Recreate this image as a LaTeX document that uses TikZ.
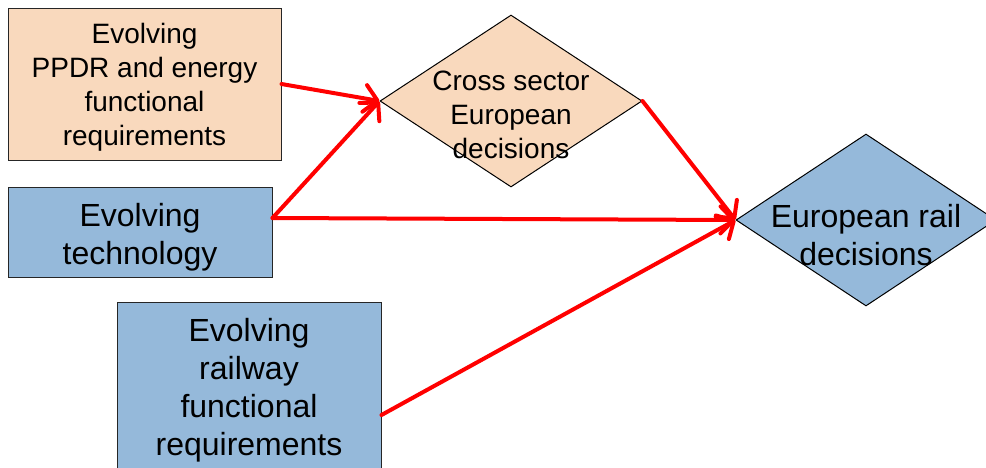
\documentclass[tikz,border=0pt]{standalone}
\usepackage{fontspec}
\setmainfont{Liberation Sans}
\usetikzlibrary{shapes.geometric,arrows.meta,calc}
\definecolor{peach}{HTML}{F9D9BD}
\definecolor{steel}{HTML}{95B9DA}
\definecolor{arrred}{HTML}{FF0000}
\begin{document}
\begin{tikzpicture}[x=1pt,y=-1pt,
  boxstyle/.style={draw=black!85,line width=1pt,inner sep=0pt,align=center},
  diastyle/.style={draw=black,line width=1pt,shape=diamond,inner sep=0pt},
  smalltext/.style={font=\fontsize{28}{34}\selectfont,align=center},
  bigtext/.style={font=\fontsize{32}{38}\selectfont,align=center},
  conn/.style={draw=arrred,line width=4pt,line cap=round,line join=round,
    -{Straight Barb[length=13pt,width=27pt,line width=4pt,round]}}]
\useasboundingbox (0,0) rectangle (986,467);
\node[boxstyle,fill=peach,minimum width=273,minimum height=152] (b1) at (144.5,84) {};
\node[smalltext] (b1t) at ($(b1.center)+(0,3)$)
  {Evolving\\PPDR and energy\\functional\\requirements};
\node[boxstyle,fill=steel,minimum width=264,minimum height=90] (b2) at (140,232) {};
\node[bigtext] (b2t) at ($(b2.center)+(0,5)$) {Evolving\\technology};
\node[boxstyle,fill=steel,minimum width=264,minimum height=170] (b3) at (249,387) {};
\node[bigtext] (b3t) at ($(b3.center)+(0,3)$) {Evolving\\railway\\functional\\requirements};
\node[diastyle,fill=peach,minimum width=262,minimum height=172] (d1) at (511,101) {};
\node[smalltext] (t1) at ($(d1.center)+(0,14)$) {Cross sector\\European\\decisions};
\node[diastyle,fill=steel,minimum width=260,minimum height=172] (d2) at (866,220) {};
\node[bigtext] (t2) at ($(d2.center)+(0,15)$) {European rail\\decisions};
\coordinate (b2out) at ($(b2.east)+(0,-14)$);
\coordinate (b3out) at ($(b3.east)+(0,28)$);
\draw[conn] (b1.east) -- (d1.west);
\draw[conn] (b2out) -- (d1.west);
\draw[conn] (b2out) -- (d2.west);
\draw[conn] (d1.east) -- (d2.west);
\draw[conn] (b3out) -- (d2.west);
\end{tikzpicture}
\end{document}
